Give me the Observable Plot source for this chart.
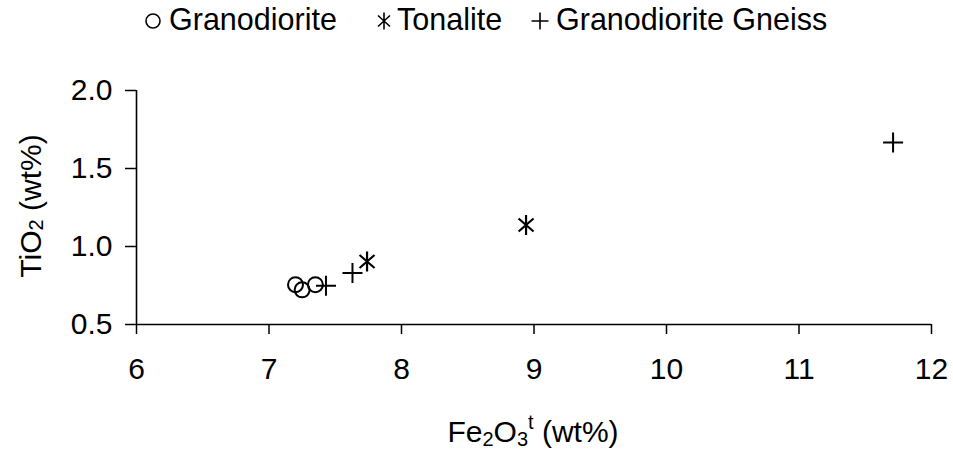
<!DOCTYPE html>
<html>
<head>
<meta charset="utf-8">
<script src="https://cdn.jsdelivr.net/npm/d3@7"></script>
<script src="https://cdn.jsdelivr.net/npm/@observablehq/plot@0.6"></script>
<style>
  html, body { margin: 0; padding: 0; background: #fff; }
  #wrap { width: 953px; font-family: "Liberation Sans", Arial, sans-serif; }
  #legend svg, #chart svg { display: block; }
  #chart svg g[aria-label="x-axis tick"] path, #chart svg g[aria-label="y-axis tick"] path { stroke-width: 1.5; }
</style>
</head>
<body>
<div id="wrap">
  <div id="legend"></div>
  <div id="chart"></div>
</div>
<script>
// ---- Data ----
const seriesNames = ["Granodiorite", "Tonalite", "Granodiorite Gneiss"];

const granodioriteFe = [7.20, 7.25, 7.35];
const granodioriteTi = [0.755, 0.722, 0.755];

const tonaliteFe = [7.74, 8.94];
const tonaliteTi = [0.904, 1.138];

const gneissFe = [7.43, 7.63, 11.71];
const gneissTi = [0.749, 0.830, 1.666];

const xTicks = [6, 7, 8, 9, 10, 11, 12];
const yTicks = [0.5, 1.0, 1.5, 2.0];

// ---- Symbols ----
const asteriskSym = {
  draw(ctx) {
    ctx.moveTo(0, -10); ctx.lineTo(0, 10);
    ctx.moveTo(-7.5, -6.5); ctx.lineTo(7.5, 6.5);
    ctx.moveTo(-7.5, 6.5); ctx.lineTo(7.5, -6.5);
  }
};
const plusSym = {
  draw(ctx) {
    ctx.moveTo(0, -10); ctx.lineTo(0, 10);
    ctx.moveTo(-10, 0); ctx.lineTo(10, 0);
  }
};

const toRows = (fe, ti) => fe.map((v, i) => ({fe: v, ti: ti[i]}));
const gRows = toRows(granodioriteFe, granodioriteTi);
const tRows = toRows(tonaliteFe, tonaliteTi);
const nRows = toRows(gneissFe, gneissTi);

const FONT = '"Liberation Sans", Arial, sans-serif';

// ---- Legend (above the plot) ----
const legendH = 44;
const lg = d3.select("#legend").append("svg")
  .attr("width", 953).attr("height", legendH)
  .style("font-family", FONT);
const legendItems = [
  {name: seriesNames[0], sx: 153, tx: 169, kind: "circle"},
  {name: seriesNames[1], sx: 384, tx: 397, kind: "asterisk"},
  {name: seriesNames[2], sx: 540, tx: 556, kind: "plus"}
];
const symY = 21;
legendItems.forEach(it => {
  const g = lg.append("g").attr("transform", `translate(${it.sx},${symY})`)
    .attr("fill", "none").attr("stroke", "black").attr("stroke-width", 1.6);
  if (it.kind === "circle") g.append("circle").attr("r", 7);
  else if (it.kind === "asterisk") g.append("path").attr("d", "M0,-8.5L0,8.5M-6,-5.5L6,5.5M-6,5.5L6,-5.5");
  else g.append("path").attr("d", "M0,-8.5L0,8.5M-8.5,0L8.5,0");
  lg.append("text").attr("x", it.tx).attr("y", 29.5)
    .attr("font-size", 30.5).attr("fill", "black").text(it.name);
});

// ---- Plot ----
const W = 953, H = 452 - legendH;
const chart = Plot.plot({
  width: W,
  height: H,
  marginLeft: 136,
  marginRight: 22,
  marginTop: 90 - legendH,
  marginBottom: H - (324 - legendH),
  style: {fontFamily: FONT, fontSize: "30px", color: "black", background: "white"},
  x: {domain: [6, 12], ticks: xTicks, tickSize: 10, tickPadding: 23, label: null, tickFormat: d3.format("d")},
  y: {domain: [0.5, 2.0], ticks: yTicks, tickSize: 11, tickPadding: 13, label: null, tickFormat: d3.format(".1f")},
  marks: [
    Plot.ruleX([6], {stroke: "black", strokeWidth: 1.6}),
    Plot.ruleY([0.5], {stroke: "black", strokeWidth: 1.6}),
    Plot.dot(gRows, {x: "fe", y: "ti", symbol: "circle", r: 7.5, fill: "none", stroke: "black", strokeWidth: 2}),
    Plot.dot(tRows, {x: "fe", y: "ti", symbol: asteriskSym, fill: "none", stroke: "black", strokeWidth: 2.2}),
    Plot.dot(nRows, {x: "fe", y: "ti", symbol: plusSym, fill: "none", stroke: "black", strokeWidth: 2})
  ]
});
document.getElementById("chart").appendChild(chart);

// ---- Axis titles with sub/superscripts ----
const svg = d3.select(chart);
const yl = svg.append("text")
  .attr("transform", `translate(41,${206 - legendH}) rotate(-90)`)
  .attr("text-anchor", "middle").attr("font-size", 30).attr("fill", "black")
  .attr("font-family", FONT);
yl.append("tspan").text("TiO");
yl.append("tspan").attr("font-size", 20).attr("dy", 2).text("2");
yl.append("tspan").attr("dy", -2).text(" (wt%)");

const xl = svg.append("text")
  .attr("x", 533).attr("y", 442 - legendH)
  .attr("text-anchor", "middle").attr("font-size", 30).attr("fill", "black")
  .attr("font-family", FONT);
xl.append("tspan").text("Fe");
xl.append("tspan").attr("font-size", 20).attr("dy", 4).text("2");
xl.append("tspan").attr("dy", -4).text("O");
xl.append("tspan").attr("font-size", 20).attr("dy", 4).text("3");
xl.append("tspan").attr("font-size", 20).attr("dy", -17).text("t");
xl.append("tspan").attr("dy", 13).text(" (wt%)");
</script>
</body>
</html>
